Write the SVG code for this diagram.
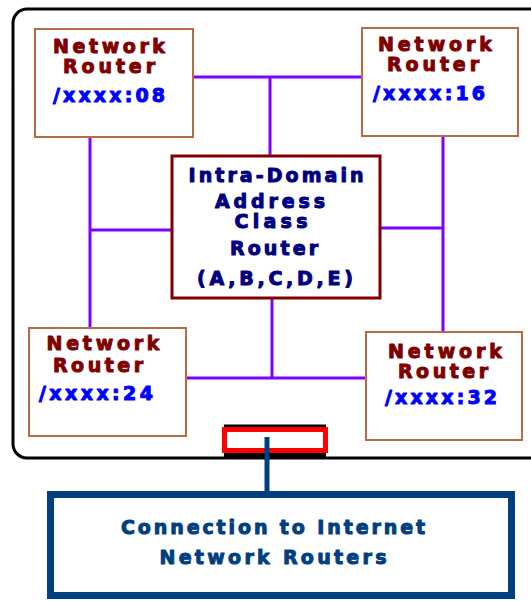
<svg xmlns="http://www.w3.org/2000/svg" width="531" height="601" viewBox="0 0 531 601">
<style>
.nr{fill:#fff;stroke:#b86a45;stroke-width:2}
.t{font-family:"DejaVu Sans","Liberation Sans",Arial,sans-serif;font-weight:bold;font-size:19px;text-anchor:middle;stroke-width:1;stroke-linejoin:round}
.dr{fill:#800000;stroke:#800000}
.bl{fill:#0000ff;stroke:#0000ff}
.nv{fill:#000080;stroke:#000080}
.ib{fill:#004080;stroke:#004080}
.pl{stroke:#7f00ff;stroke-width:3;fill:none}
</style>
<rect id="domain" x="13" y="9" width="540" height="449" rx="14" fill="#fff" stroke="#000" stroke-width="3"/>
<g id="connectors">
<polyline class="pl" points="193,77 362,77"/>
<polyline class="pl" points="270,77 270,156"/>
<polyline class="pl" points="90,137 90,328"/>
<polyline class="pl" points="90,230 172,230"/>
<polyline class="pl" points="443,136 443,332"/>
<polyline class="pl" points="380,228 443,228"/>
<polyline class="pl" points="186,378 366,378"/>
<polyline class="pl" points="272,298 272,378"/>
<line x1="267" y1="437" x2="267" y2="494" stroke="#004080" stroke-width="5"/>
</g>
<g id="router08">
<rect class="nr" x="35" y="29" width="158" height="108"/>
<text class="t dr" x="109" y="53" textLength="112" lengthAdjust="spacing">Network</text>
<text class="t dr" x="109" y="73" textLength="92" lengthAdjust="spacing">Router</text>
<text class="t bl" x="109" y="102" textLength="112" lengthAdjust="spacing">/xxxx:08</text>
</g>
<g id="router16">
<rect class="nr" x="362" y="28" width="156" height="108"/>
<text class="t dr" x="435" y="51" textLength="114" lengthAdjust="spacing">Network</text>
<text class="t dr" x="433" y="71" textLength="92" lengthAdjust="spacing">Router</text>
<text class="t bl" x="429" y="100" textLength="112" lengthAdjust="spacing">/xxxx:16</text>
</g>
<g id="classrouter">
<rect x="172" y="156" width="208" height="142" fill="#fff" stroke="#800000" stroke-width="3"/>
<text class="t nv" x="276" y="182" textLength="175" lengthAdjust="spacing">Intra-Domain</text>
<text class="t nv" x="270" y="208" textLength="110" lengthAdjust="spacing">Address</text>
<text class="t nv" x="271" y="228" textLength="73" lengthAdjust="spacing">Class</text>
<text class="t nv" x="274" y="255" textLength="88" lengthAdjust="spacing">Router</text>
<text class="t nv" x="275" y="285" textLength="156" lengthAdjust="spacing">(A,B,C,D,E)</text>
</g>
<g id="router24">
<rect class="nr" x="29" y="328" width="157" height="108"/>
<text class="t dr" x="103" y="350" textLength="113" lengthAdjust="spacing">Network</text>
<text class="t dr" x="98" y="372" textLength="90" lengthAdjust="spacing">Router</text>
<text class="t bl" x="96" y="400" textLength="114" lengthAdjust="spacing">/xxxx:24</text>
</g>
<g id="router32">
<rect class="nr" x="366" y="332" width="156" height="108"/>
<text class="t dr" x="445" y="358" textLength="114" lengthAdjust="spacing">Network</text>
<text class="t dr" x="443" y="378" textLength="90" lengthAdjust="spacing">Router</text>
<text class="t bl" x="441" y="404" textLength="112" lengthAdjust="spacing">/xxxx:32</text>
</g>
<g id="gateway">
<rect x="224" y="424.5" width="102" height="34.5" fill="#000"/>
<rect x="224.5" y="429.5" width="101" height="21" fill="#fff" stroke="#ff0000" stroke-width="5"/>
<line x1="267" y1="437" x2="267" y2="460" stroke="#004080" stroke-width="5"/>
</g>
<g id="internet">
<rect x="50.5" y="494.5" width="461" height="101" fill="#fff" stroke="#004080" stroke-width="7"/>
<text class="t ib" x="273" y="534" textLength="304" lengthAdjust="spacing">Connection to Internet</text>
<text class="t ib" x="273" y="564" textLength="227" lengthAdjust="spacing">Network Routers</text>
</g>
</svg>
